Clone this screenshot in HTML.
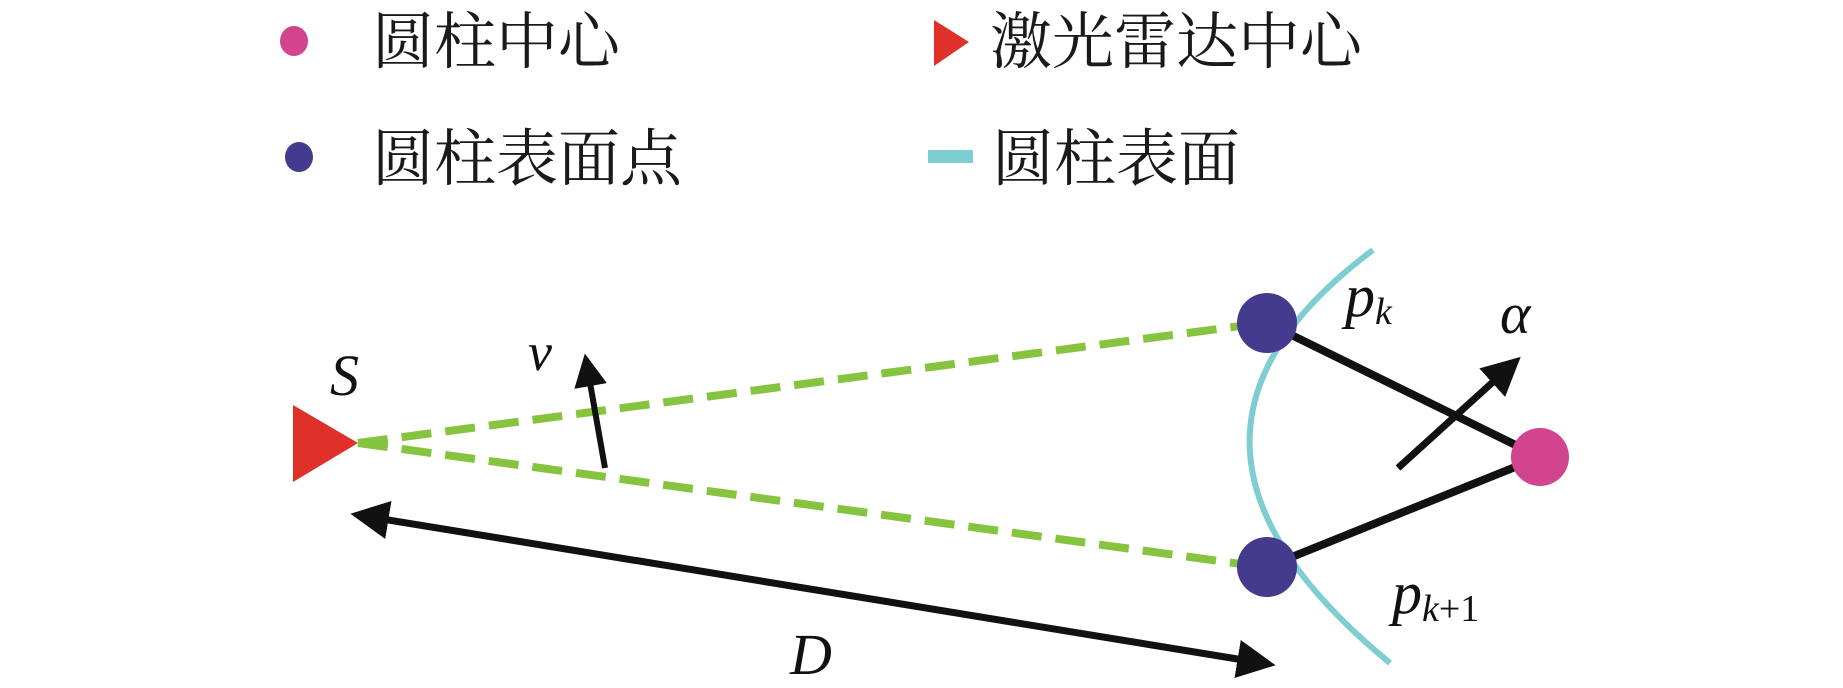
<!DOCTYPE html>
<html><head><meta charset="utf-8"><style>
html,body{margin:0;padding:0;background:#fff;}
svg{display:block;}
.cn{font-family:"Liberation Serif","Noto Serif CJK SC","Noto Sans CJK SC",serif;font-size:62px;fill:#1a1a1a;}
.it{font-family:"Liberation Serif",serif;font-style:italic;fill:#111;}
</style></head><body>
<svg width="1843" height="688" viewBox="0 0 1843 688" xmlns="http://www.w3.org/2000/svg">
<defs>
<marker id="ah" viewBox="0 0 10 10" refX="8" refY="5" markerWidth="5.5" markerHeight="5.5" orient="auto-start-reverse" markerUnits="strokeWidth">
<path d="M0,0 L10,5 L0,10 Z" fill="#111"/></marker>
</defs>
<ellipse cx="294" cy="41" rx="14" ry="15" fill="#d2448e"/>
<text class="cn" x="372" y="63">圆柱中心</text>
<polygon points="934,20 969,42 934,66" fill="#e0302a"/>
<text class="cn" x="990" y="63">激光雷达中心</text>
<ellipse cx="299" cy="157" rx="14" ry="15" fill="#443a8e"/>
<text class="cn" x="372" y="180">圆柱表面点</text>
<rect x="928" y="150" width="45" height="13" fill="#7ecdd0"/>
<text class="cn" x="992" y="180">圆柱表面</text>
<path d="M1373,250 Q1118,440 1390,663" fill="none" stroke="#7ecdd0" stroke-width="6"/>
<line x1="358" y1="443" x2="1263" y2="323" stroke="#86c440" stroke-width="8" stroke-dasharray="30,14"/>
<line x1="358" y1="443" x2="1263" y2="567" stroke="#86c440" stroke-width="8" stroke-dasharray="30,14"/>
<polygon points="293,405 358,443 293,482" fill="#e0302a"/>
<line x1="1267" y1="323" x2="1540" y2="457" stroke="#111" stroke-width="8"/>
<line x1="1267" y1="567" x2="1540" y2="457" stroke="#111" stroke-width="8"/>
<line x1="1398" y1="468" x2="1515" y2="362" stroke="#111" stroke-width="7" marker-end="url(#ah)"/>
<line x1="605" y1="468" x2="586" y2="360" stroke="#111" stroke-width="6" marker-end="url(#ah)"/>
<line x1="358" y1="515" x2="1268" y2="664" stroke="#111" stroke-width="7" marker-start="url(#ah)" marker-end="url(#ah)"/>
<circle cx="1267" cy="323" r="30" fill="#443a8e"/>
<circle cx="1267" cy="567" r="30" fill="#443a8e"/>
<circle cx="1540" cy="457" r="29" fill="#d2448e"/>
<text class="it" x="330" y="395" font-size="58">S</text>
<text class="it" x="528" y="370" font-size="54">v</text>
<text class="it" x="1345" y="316" font-size="60">p<tspan font-size="38" dy="8">k</tspan></text>
<text class="it" x="1500" y="333" font-size="58">α</text>
<text class="it" x="1392" y="613" font-size="60">p<tspan font-size="38" dy="8">k</tspan><tspan font-size="38" font-style="normal">+1</tspan></text>
<text class="it" x="790" y="674" font-size="58">D</text>
</svg>
</body></html>
